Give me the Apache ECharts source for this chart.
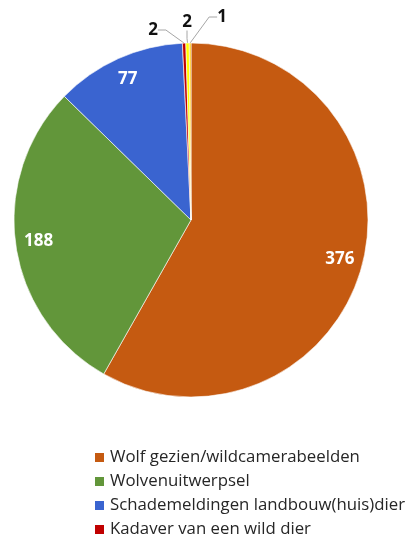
<!DOCTYPE html>
<html>
<head>
<meta charset="utf-8">
<script src="https://cdn.jsdelivr.net/npm/echarts@6/dist/echarts.min.js"></script>
<style>
html,body{margin:0;padding:0;background:#fff;}
#c{width:406px;height:538px;}
</style>
</head>
<body>
<div id="c"></div>
<script>
const categories = ['Wolf gezien/wildcamerabeelden','Wolvenuitwerpsel','Schademeldingen landbouw(huis)dier','Kadaver van een wild dier','Overig 1','Overig 2'];
const values = [376, 188, 77, 2, 2, 1];
const legendItems = ['Wolf gezien/wildcamerabeelden','Wolvenuitwerpsel','Schademeldingen landbouw(huis)dier','Kadaver van een wild dier'];
const colors = ['#C55A11','#62963A','#3A64D0','#C00000','#FFFF00','#FFC000'];
const smallLabelPos = {3:[153,30],4:[187,22],5:[222,17]};

const chart = echarts.init(document.getElementById('c'));
const data = categories.map((n,i)=>({name:n,value:values[i],itemStyle:{color:colors[i]}}));
const font = '"Open Sans", sans-serif';
chart.setOption({
  animation:false,
  backgroundColor:'#fff',
  legend:{
    data:legendItems,
    orient:'vertical',
    left:88, top:444, height:100,
    itemWidth:11, itemHeight:11, itemGap:7,
    icon:'rect',
    textStyle:{fontFamily:font,fontSize:16.8,color:'#262626',lineHeight:17}
  },
  series:[
    {
      type:'pie', center:[191,220], radius:[0,177], startAngle:90, clockwise:true,
      itemStyle:{borderColor:'#fff',borderWidth:0.6},
      data:data.map((d,i)=>Object.assign({},d,{label:{show:i>=3}, labelLine:{show:i>=3}})),
      label:{position:'outside',formatter:'{c}',fontFamily:font,fontWeight:'bold',fontSize:17,color:'#111'},
      labelLine:{lineStyle:{color:'#A6A6A6',width:1},length:8,length2:8},
      labelLayout:function(p){
        const pos = smallLabelPos[p.dataIndex];
        if(pos){return {x:pos[0],y:pos[1],align:'center',verticalAlign:'middle'};}
        return {};
      },
      emphasis:{disabled:true}
    },
    {
      type:'pie', center:[191,220], radius:[125,177], startAngle:90, clockwise:true, silent:true,
      data:data.map((d,i)=>({name:d.name,value:d.value,itemStyle:{color:'rgba(0,0,0,0)'},label:{show:i<3}})),
      label:{position:'inside',formatter:'{c}',fontFamily:font,fontWeight:'bold',fontSize:17,color:'#fff'},
      labelLine:{show:false},
      emphasis:{disabled:true}
    }
  ]
});
</script>
</body>
</html>
